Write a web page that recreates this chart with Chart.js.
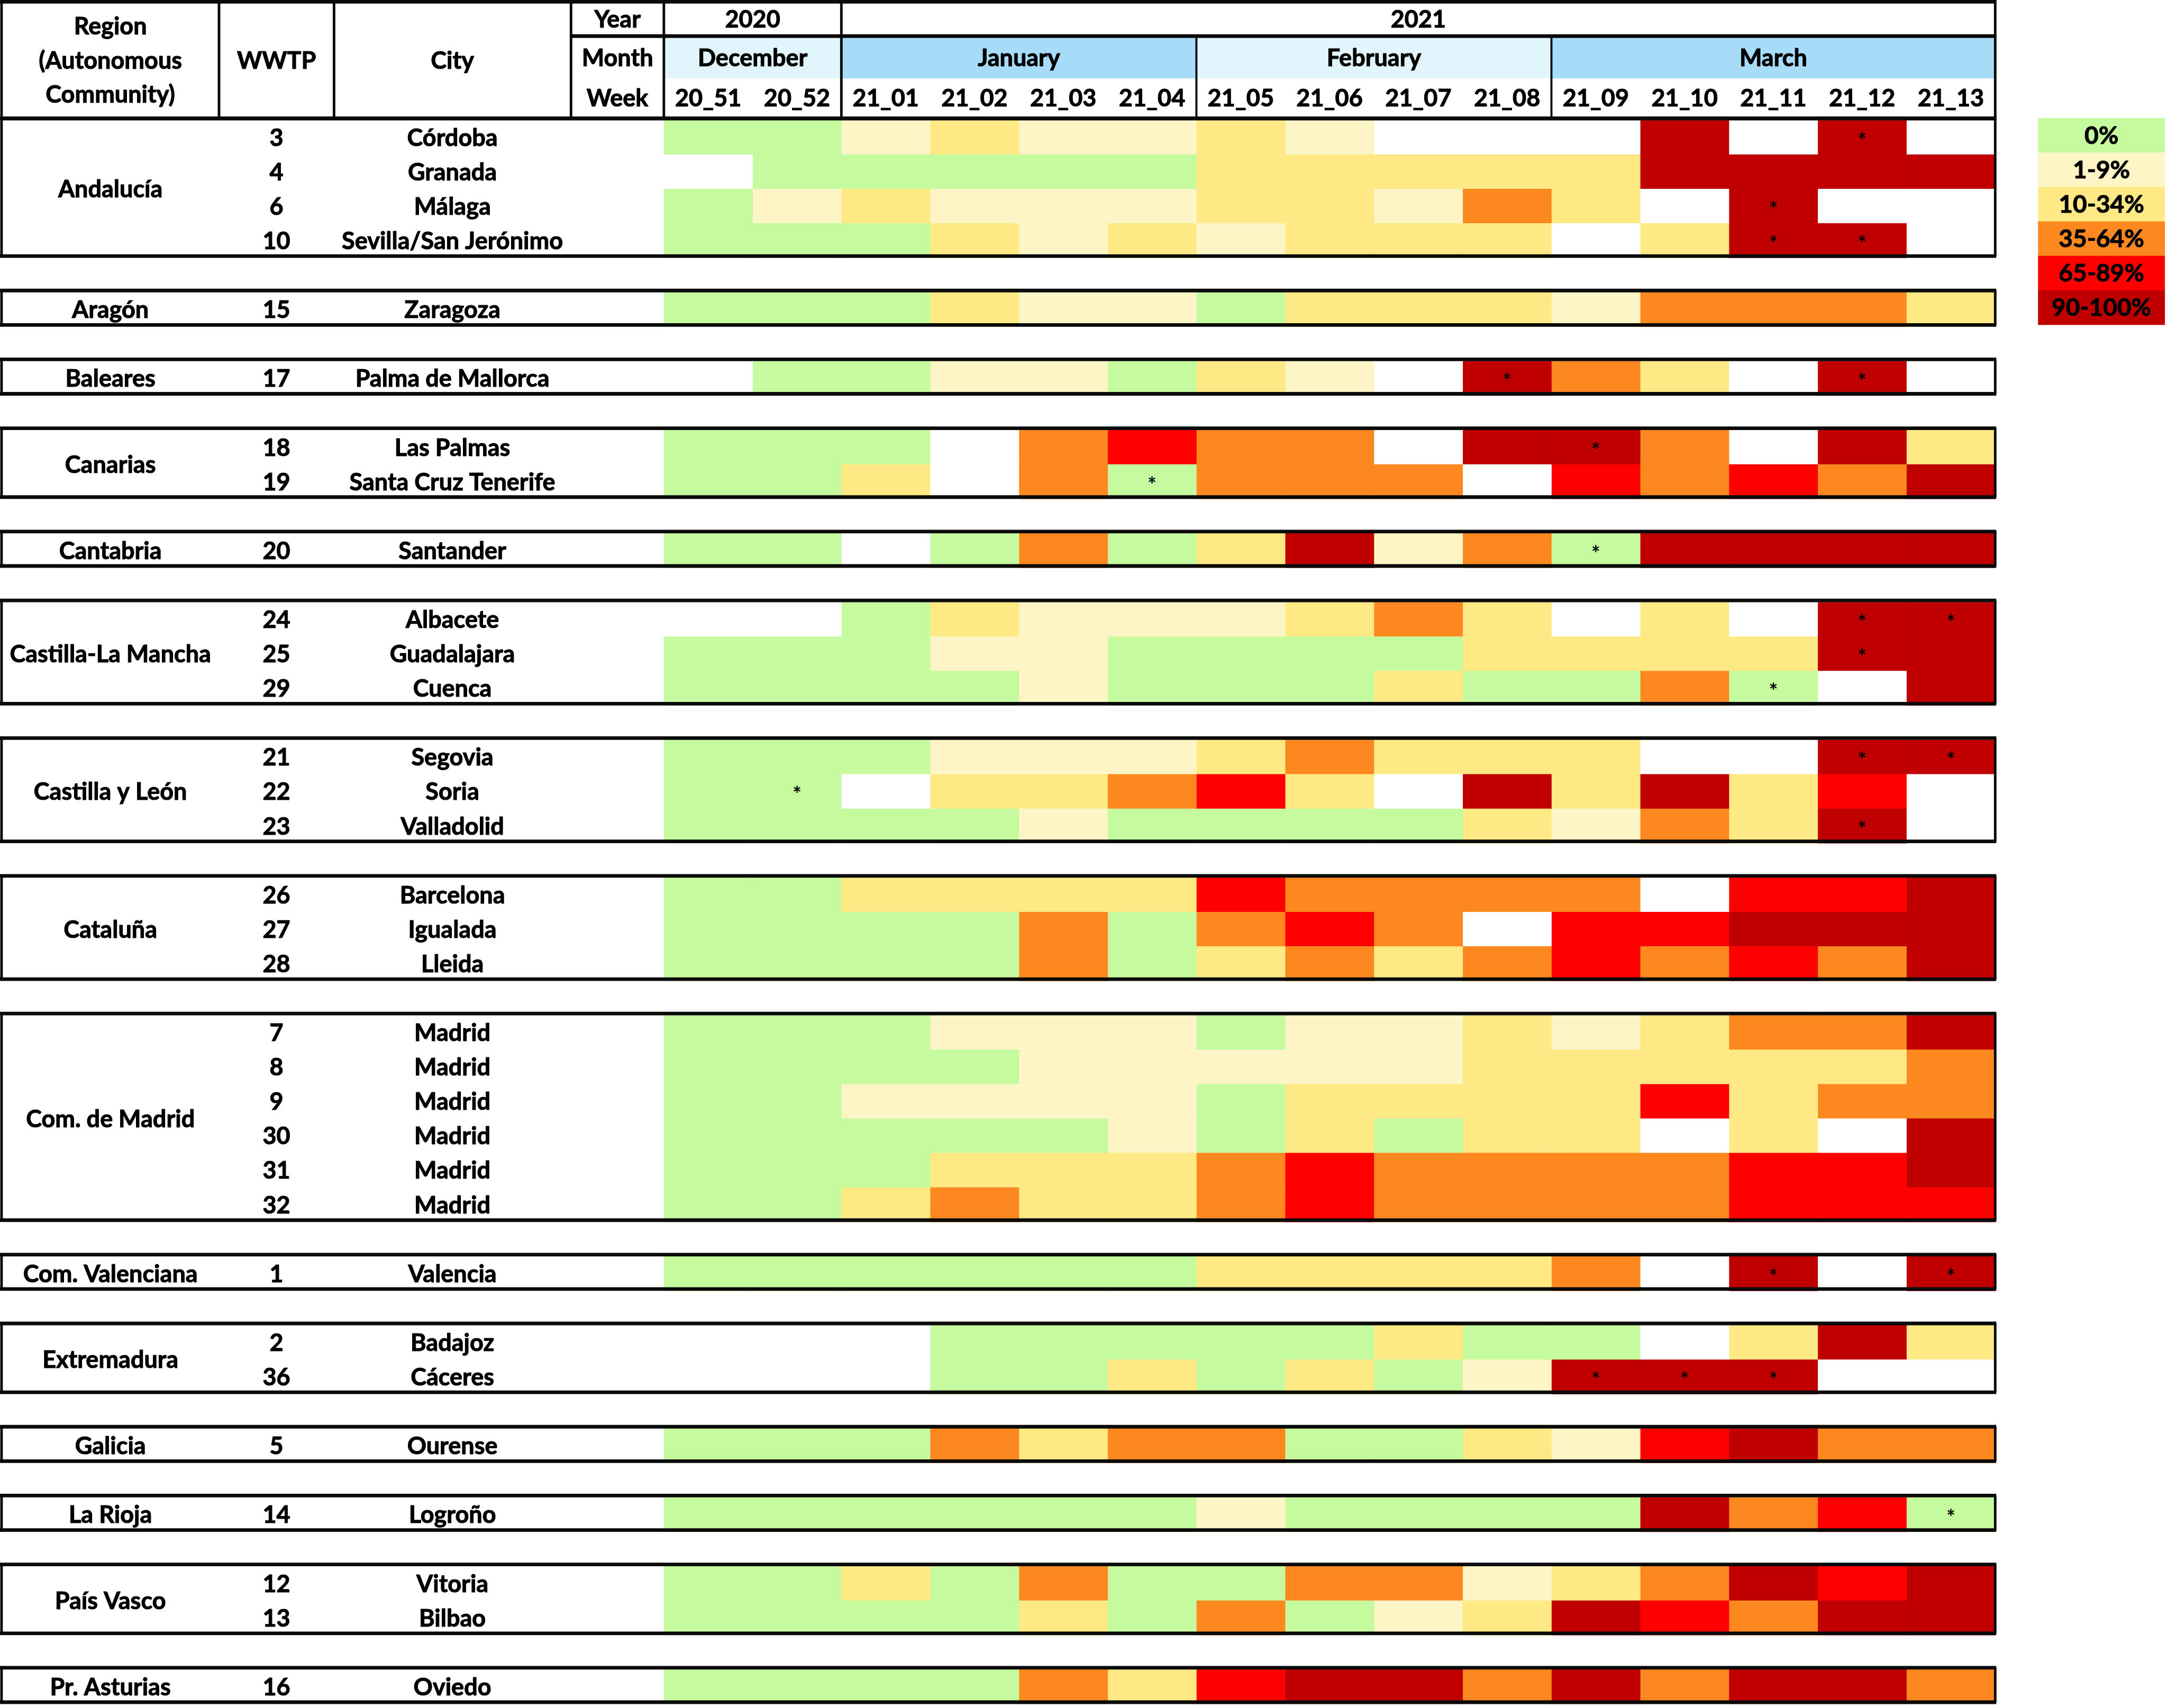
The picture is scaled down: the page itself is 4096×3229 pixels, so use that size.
<!DOCTYPE html>
<html>
<head>
<meta charset="utf-8">
<title>WWTP weekly heat table</title>
<script src="https://cdn.jsdelivr.net/npm/chart.js@4.4.1/dist/chart.umd.min.js"></script>
<style>
  html, body { margin: 0; padding: 0; background: #fff; }
  #wrap { width: 4096px; height: 3229px; position: relative; }
</style>
</head>
<body>
<div id="wrap"><canvas id="heat"></canvas></div>
<script>
// ---- data ----
const weeks = ['20_51','20_52','21_01','21_02','21_03','21_04','21_05','21_06','21_07','21_08','21_09','21_10','21_11','21_12','21_13'];
const years = ['2020','2021'];
const yearSpan = [[0,1],[2,14]];
const months = ['December','January','February','March'];
const monthSpan = [[0,1],[2,5],[6,9],[10,14]];
const monthFill = ['#e1f5fc','#a6dcf8','#e1f5fc','#a6dcf8'];

const levelLabels = ['0%','1-9%','10-34%','35-64%','65-89%','90-100%'];
const levelColors = ['#c6fa9e','#fef5c6','#fee985','#fe8820','#ff0000','#c00000'];

const regions = ['Andalucía','Aragón','Baleares','Canarias','Cantabria','Castilla-La Mancha','Castilla y León','Cataluña','Com. de Madrid','Com. Valenciana','Extremadura','Galicia','La Rioja','País Vasco','Pr. Asturias'];
const regionSize = [4,1,1,2,1,3,3,3,6,1,2,1,1,2,1];
const wwtp = [3,4,6,10,15,17,18,19,20,24,25,29,21,22,23,26,27,28,7,8,9,30,31,32,1,2,36,5,14,12,13,16];
const cities = ['Córdoba','Granada','Málaga','Sevilla/San Jerónimo','Zaragoza','Palma de Mallorca','Las Palmas','Santa Cruz Tenerife','Santander','Albacete','Guadalajara','Cuenca','Segovia','Soria','Valladolid','Barcelona','Igualada','Lleida','Madrid','Madrid','Madrid','Madrid','Madrid','Madrid','Valencia','Badajoz','Cáceres','Ourense','Logroño','Vitoria','Bilbao','Oviedo'];

// level index per week (0 = 0% ... 5 = 90-100%), null = no sample
const _ = null;
const levels = [
  [0,0,1,2,1,1,2,1,_,_,_,5,_,5,_],
  [_,0,0,0,0,0,2,2,2,2,2,5,5,5,5],
  [0,1,2,1,1,1,2,2,1,3,2,_,5,_,_],
  [0,0,0,2,1,2,1,2,2,2,_,2,5,5,_],
  [0,0,0,2,1,1,0,2,2,2,1,3,3,3,2],
  [_,0,0,1,1,0,2,1,_,5,3,2,_,5,_],
  [0,0,0,_,3,4,3,3,_,5,5,3,_,5,2],
  [0,0,2,_,3,0,3,3,3,_,4,3,4,3,5],
  [0,0,_,0,3,0,2,5,1,3,0,5,5,5,5],
  [_,_,0,2,1,1,1,2,3,2,_,2,_,5,5],
  [0,0,0,1,1,0,0,0,0,2,2,2,2,5,5],
  [0,0,0,0,1,0,0,0,2,0,0,3,0,_,5],
  [0,0,0,1,1,1,2,3,2,2,2,_,_,5,5],
  [0,0,_,2,2,3,4,2,_,5,2,5,2,4,_],
  [0,0,0,0,1,0,0,0,0,2,1,3,2,5,_],
  [0,0,2,2,2,2,4,3,3,3,3,_,4,4,5],
  [0,0,0,0,3,0,3,4,3,_,4,4,5,5,5],
  [0,0,0,0,3,0,2,3,2,3,4,3,4,3,5],
  [0,0,0,1,1,1,0,1,1,2,1,2,3,3,5],
  [0,0,0,0,1,1,1,1,1,2,2,2,2,2,3],
  [0,0,1,1,1,1,0,2,2,2,2,4,2,3,3],
  [0,0,0,0,0,1,0,2,0,2,2,_,2,_,5],
  [0,0,0,2,2,2,3,4,3,3,3,3,4,4,5],
  [0,0,2,3,2,2,3,4,3,3,3,3,4,4,4],
  [0,0,0,0,0,0,2,2,2,2,3,_,5,_,5],
  [_,_,_,0,0,0,0,0,2,0,0,_,2,5,2],
  [_,_,_,0,0,2,0,2,0,1,5,5,5,_,_],
  [0,0,0,3,2,3,3,0,0,2,1,4,5,3,3],
  [0,0,0,0,0,0,1,0,0,0,0,5,3,4,0],
  [0,0,2,0,3,0,0,3,3,1,2,3,5,4,5],
  [0,0,0,0,2,0,3,0,1,2,5,4,3,5,5],
  [0,0,0,0,3,2,4,5,5,3,5,3,5,5,3]
];
// cells marked with an asterisk: [station, week]
const flagged = [[0,13],[2,12],[3,12],[3,13],[5,9],[5,13],[6,10],[7,5],[8,10],[9,13],[9,14],[10,13],[11,12],[12,13],[12,14],[13,1],[14,13],[24,12],[24,14],[26,10],[26,11],[26,12],[28,14]];

// ---- layout ----
const S = 0.975;            // reference -> window
const FONT = 'bold 45px Lato, "Open Sans", sans-serif';
const CAP = 16;             // half cap height for 45px Lato
const LINE = '#0a0a0a';

// rows of the table: station index, or null for the blank row between regions
const rows = [];
const groups = [];
let k = 0;
regions.forEach((r, g) => {
  if (g > 0) rows.push(null);
  groups.push({ name: r, first: rows.length, last: rows.length + regionSize[g] - 1 });
  for (let i = 0; i < regionSize[g]; i++) rows.push(k++);
});
const rowOf = st => rows.indexOf(st);

const datasets = weeks.map((w, c) => ({
  label: w,
  data: rows.map(s => s === null ? null : 1),
  backgroundColor: rows.map(s => {
    if (s === null) return 'rgba(0,0,0,0)';
    const v = levels[s][c];
    return v === null ? '#ffffff' : levelColors[v];
  }),
  borderWidth: 0,
  barPercentage: 1,
  categoryPercentage: 1
}));

function hLine(ctx, x1, x2, yy, w) {
  ctx.lineWidth = w;
  ctx.beginPath(); ctx.moveTo(x1, yy); ctx.lineTo(x2, yy); ctx.stroke();
}
function vLine(ctx, xx, y1, y2, w) {
  ctx.lineWidth = w;
  ctx.beginPath(); ctx.moveTo(xx, y1); ctx.lineTo(xx, y2); ctx.stroke();
}
// bold text with a hairline stroke so it is as heavy as the original
function label(ctx, txt, cx, cy) {
  ctx.save();
  ctx.strokeStyle = ctx.fillStyle;
  ctx.lineWidth = 1.1;
  ctx.lineJoin = 'round';
  ctx.strokeText(txt, cx, cy + CAP);
  ctx.fillText(txt, cx, cy + CAP);
  ctx.restore();
}

const tablePlugin = {
  id: 'table',
  afterDraw(chart) {
    const ctx = chart.ctx;
    const { x, y } = chart.scales;
    const area = chart.chartArea;
    const slot = y.getPixelForValue(1) - y.getPixelForValue(0);
    const rowTop = i => y.getPixelForValue(i) - slot / 2;
    const rowMid = i => y.getPixelForValue(i);
    const colX = c => x.getPixelForValue(c);
    const right = colX(15);
    const colEdges = [424.6 * S, 647.6 * S, 1107 * S];
    const thick = 7 * S, thin = 5 * S;
    const headBottom = area.top - 3;

    ctx.save();
    // month fills
    monthSpan.forEach((sp, i) => {
      ctx.fillStyle = monthFill[i];
      ctx.fillRect(colX(sp[0]), 71 * S, colX(sp[1] + 1) - colX(sp[0]), 81 * S);
    });

    ctx.strokeStyle = LINE;
    // header rules
    hLine(ctx, 0, right + 2, 3.5 * S, thick);
    hLine(ctx, colEdges[2], right + 2, 70 * S, thick);
    hLine(ctx, 0, right + 2, headBottom, thick);
    [3 * S, ...colEdges, area.left, colX(2), right].forEach(xx => vLine(ctx, xx, 0, headBottom, thin));
    [colX(6), colX(10)].forEach(xx => vLine(ctx, xx, 70 * S, headBottom, 4 * S));

    // header text
    ctx.fillStyle = '#000';
    ctx.font = FONT;
    ctx.textAlign = 'center';
    ctx.textBaseline = 'alphabetic';
    const regCx = 214 * S, wwCx = 536 * S, cityCx = 877 * S, ymwCx = 1197 * S;
    label(ctx, 'Region', regCx, 50 * S);
    label(ctx, '(Autonomous', regCx, 117 * S);
    label(ctx, 'Community)', regCx, 183 * S);
    label(ctx, 'WWTP', wwCx, 117 * S);
    label(ctx, 'City', cityCx, 117 * S);
    label(ctx, 'Year', ymwCx, 37 * S);
    label(ctx, 'Month', ymwCx, 112 * S);
    label(ctx, 'Week', ymwCx, 190 * S);
    years.forEach((yr, i) => label(ctx, yr, (colX(yearSpan[i][0]) + colX(yearSpan[i][1] + 1)) / 2, 37 * S));
    months.forEach((m, i) => label(ctx, m, (colX(monthSpan[i][0]) + colX(monthSpan[i][1] + 1)) / 2, 112 * S));
    weeks.forEach((w, c) => label(ctx, w, (colX(c) + colX(c + 1)) / 2, 190 * S));

    // region boxes and row labels
    groups.forEach(g => {
      const top = rowTop(g.first) - 3.4;
      const bot = rowTop(g.last + 1) - 3.4;
      ctx.strokeStyle = LINE;
      hLine(ctx, 0, right + 2, top, thick);
      hLine(ctx, 0, right + 2, bot, thick);
      vLine(ctx, 3 * S, top, bot, thin);
      vLine(ctx, right, top, bot, thin);
      label(ctx, g.name, regCx, (rowMid(g.first) + rowMid(g.last)) / 2);
      for (let r = g.first; r <= g.last; r++) {
        label(ctx, String(wwtp[rows[r]]), wwCx, rowMid(r));
        label(ctx, cities[rows[r]], cityCx, rowMid(r));
      }
    });

    // asterisks
    ctx.font = 'bold 40px Lato, sans-serif';
    flagged.forEach(([st, c]) => {
      ctx.fillText('*', (colX(c) + colX(c + 1)) / 2, rowMid(rowOf(st)) + 20);
    });

    // legend
    ctx.font = 'bold 46px Lato, "Open Sans", sans-serif';
    const lx1 = 3951 * S, lx2 = 4197 * S;
    levelLabels.forEach((t, i) => {
      const top = rowTop(i) - 3.9;
      ctx.fillStyle = levelColors[i];
      ctx.fillRect(lx1, top, lx2 - lx1, slot + 0.5);
      ctx.fillStyle = '#000';
      label(ctx, t, (lx1 + lx2) / 2, top + slot / 2);
    });
    ctx.restore();
  }
};

function build() {
  new Chart(document.getElementById('heat'), {
    type: 'bar',
    data: { labels: rows.map((s, i) => s === null ? 'gap' + i : String(wwtp[s])), datasets: datasets },
    options: {
      indexAxis: 'y',
      responsive: true,
      maintainAspectRatio: false,
      animation: false,
      devicePixelRatio: 1,
      layout: { padding: { left: 1287 * S, top: 233 * S, right: 4096 - 3868 * S, bottom: 3229 - 3304 * S } },
      scales: {
        x: { type: 'linear', stacked: true, min: 0, max: 15, display: false },
        y: { type: 'category', stacked: true, offset: true, display: false }
      },
      plugins: { legend: { display: false }, tooltip: { enabled: false } }
    },
    plugins: [tablePlugin]
  });
}
if (document.fonts && document.fonts.load) {
  document.fonts.load(FONT).then(build, build);
} else {
  build();
}
</script>
</body>
</html>
